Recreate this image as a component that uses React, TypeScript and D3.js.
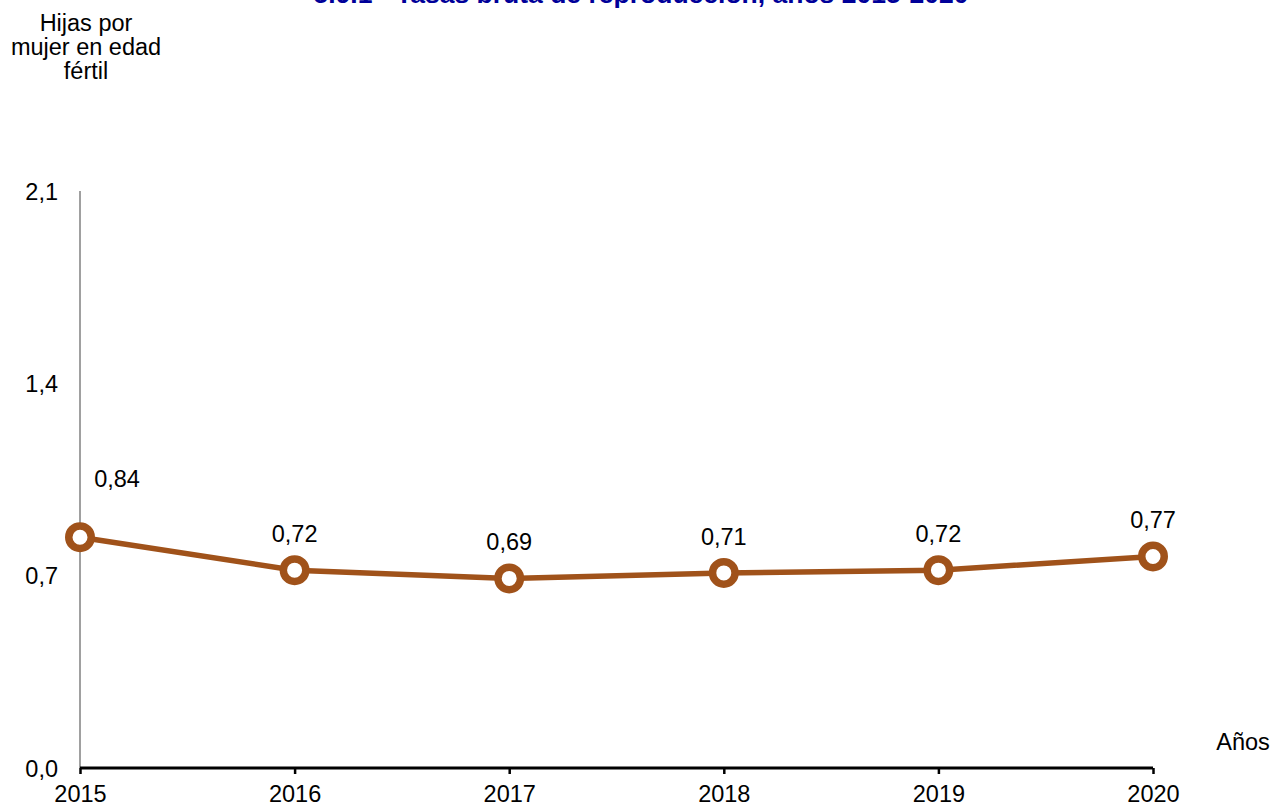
import { useEffect, useRef } from 'react'
import * as d3 from 'd3'

const years = ['2015', '2016', '2017', '2018', '2019', '2020']
const rates = [0.84, 0.72, 0.69, 0.71, 0.72, 0.77]
const yTicks = [0, 0.7, 1.4, 2.1]
const yTitle = ['Hijas por', 'mujer en edad', 'fértil']
const title = '5.9.1 - Tasas bruta de reproducción, años 2015-2020'

const fmt = (v: number, d: number) => v.toFixed(d).replace('.', ',')

export default function App() {
  const svgRef = useRef<SVGSVGElement>(null)

  useEffect(() => {
    if (!svgRef.current) return
    const svg = d3.select(svgRef.current)
    svg.selectAll('*').remove()

    const W = 1275
    const H = 810
    const font = '"Liberation Sans", Arial, sans-serif'
    const fs = '23.5px'

    const x = d3.scalePoint<string>().domain(years).range([80, 1153])
    const y = d3.scaleLinear().domain([0, 2.1]).range([768, 191])

    svg.attr('width', W).attr('height', H).style('font-family', font)

    // Title, clipped at the top of the page
    svg.append('text')
      .attr('x', 641).attr('y', 3)
      .attr('text-anchor', 'middle')
      .attr('font-size', '26.5px').attr('font-weight', 'bold')
      .attr('fill', '#000099')
      .text(title)

    // Y axis title
    svg.append('text')
      .attr('font-size', fs).attr('fill', '#000').attr('text-anchor', 'middle')
      .selectAll('tspan').data(yTitle).join('tspan')
      .attr('x', 86).attr('y', (_, i) => 31 + i * 24)
      .text(d => d)

    // Y axis line
    svg.append('line')
      .attr('x1', 80).attr('x2', 80)
      .attr('y1', y(2.1)).attr('y2', y(0))
      .attr('stroke', '#808080').attr('stroke-width', 1.5)

    // Y tick labels
    svg.append('g').selectAll('text').data(yTicks).join('text')
      .attr('x', 58).attr('y', d => y(d) + 8.5)
      .attr('text-anchor', 'end').attr('font-size', fs).attr('fill', '#000')
      .text(d => fmt(d, 1))

    // X axis
    const xAxis = d3.axisBottom(x).tickSize(6).tickPadding(11)
    const gx = svg.append('g').attr('transform', `translate(0,${y(0)})`).call(xAxis)
    gx.select('.domain').attr('stroke', '#000').attr('stroke-width', 3)
      .attr('d', `M${x('2015')},0H${x('2020')}`)
    gx.selectAll('.tick line').attr('stroke', '#000').attr('stroke-width', 2.5)
    gx.selectAll('.tick text').attr('font-size', fs).attr('fill', '#000')
      .attr('font-family', font)

    svg.append('text')
      .attr('x', 1243).attr('y', 750)
      .attr('text-anchor', 'middle').attr('font-size', fs).attr('fill', '#000')
      .text('Años')

    // Line
    const line = d3.line<number>()
      .x((_, i) => x(years[i]) as number)
      .y(d => y(d))
    svg.append('path')
      .datum(rates)
      .attr('fill', 'none')
      .attr('stroke', '#A0521A')
      .attr('stroke-width', 5.5)
      .attr('d', line)

    // Markers
    svg.append('g').selectAll('circle').data(rates).join('circle')
      .attr('cx', (_, i) => x(years[i]) as number)
      .attr('cy', d => y(d))
      .attr('r', 11.25)
      .attr('fill', '#fff')
      .attr('stroke', '#A0521A')
      .attr('stroke-width', 7.5)

    // Value labels
    svg.append('g').selectAll('text').data(rates).join('text')
      .attr('x', (_, i) => (x(years[i]) as number) + (i === 0 ? 37 : 0))
      .attr('y', (d, i) => y(d) - (i === 0 ? 50 : 28))
      .attr('text-anchor', 'middle').attr('font-size', fs).attr('fill', '#000')
      .text(d => fmt(d, 2))
  }, [])

  return (
    <div style={{ position: 'absolute', left: 0, top: 0, width: 1275, height: 810, background: '#fff' }}>
      <svg ref={svgRef} style={{ display: 'block' }} />
    </div>
  )
}
